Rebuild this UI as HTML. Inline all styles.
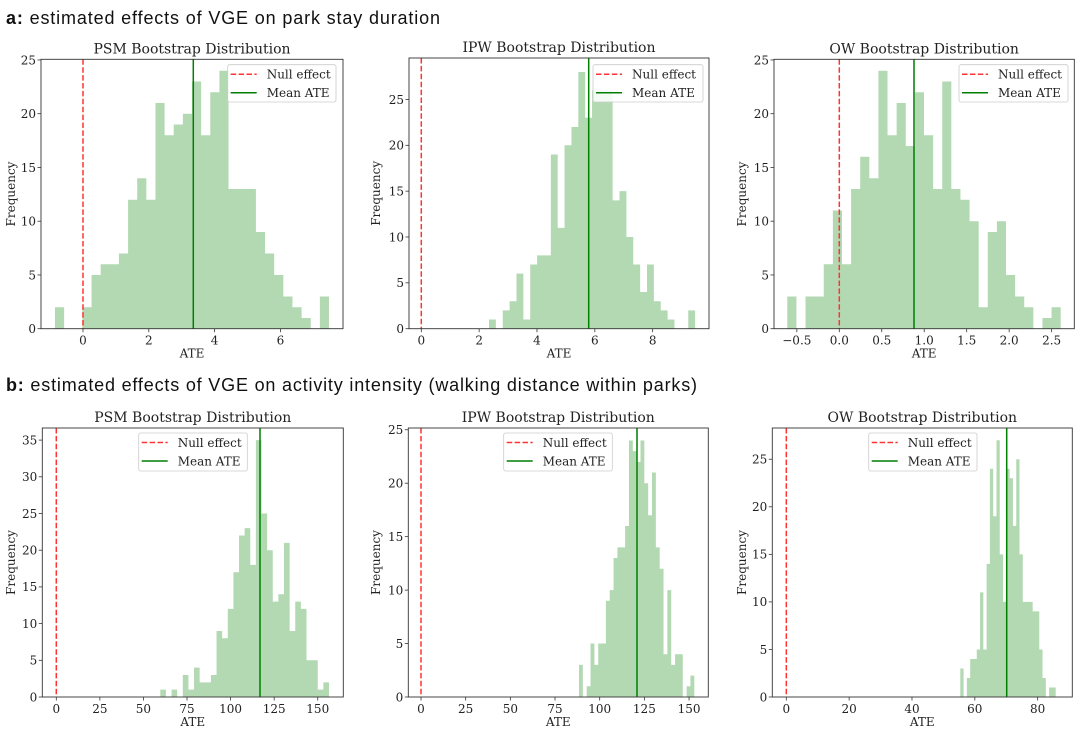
<!DOCTYPE html>
<html><head><meta charset="utf-8">
<style>
body{margin:0;background:#fff;width:1080px;height:735px;overflow:hidden}
svg{display:block}
.h{font-family:"Liberation Sans",sans-serif;font-size:18px;fill:#111}
.s{font-family:"DejaVu Serif","Liberation Serif",serif;fill:#222}
</style></head><body>
<svg id="c" width="1080" height="735" xmlns="http://www.w3.org/2000/svg">
<text class="h" x="6" y="24" textLength="434" lengthAdjust="spacing"><tspan font-weight="bold">a:</tspan> estimated effects of VGE on park stay duration</text>
<text class="h" x="6" y="391" textLength="691" lengthAdjust="spacing"><tspan font-weight="bold">b:</tspan> estimated effects of VGE on activity intensity (walking distance within parks)</text>
</svg>
<script>
const NS="http://www.w3.org/2000/svg";const svg=document.getElementById('c');
function el(t,a,txt){const e=document.createElementNS(NS,t);for(const k in a)e.setAttribute(k,a[k]);if(txt!==undefined)e.textContent=txt;svg.appendChild(e);return e;}
function panel(p){
 const xp=v=>p.x0+p.xs*v, yp=v=>p.B-p.ys*v;
 let d='';
 p.h.forEach((h,i)=>{if(h>0){const x=p.bs+i*p.bw;d+=`M${x},${p.B}V${yp(h)}H${x+p.bw}V${p.B}Z`;}});
 el('path',{d:d,fill:'rgb(179,217,179)'});
 el('line',{x1:xp(0),x2:xp(0),y1:p.T,y2:p.B,stroke:'#ff3333','stroke-width':1.5,'stroke-dasharray':'5.5,2.4'});
 el('line',{x1:p.mean,x2:p.mean,y1:p.T,y2:p.B,stroke:'#007f00','stroke-width':1.5});
 el('rect',{x:p.L,y:p.T,width:p.R-p.L,height:p.B-p.T,fill:'none',stroke:'#333','stroke-width':0.9});
 p.xt.forEach(([v,l])=>{const x=xp(v);el('line',{x1:x,x2:x,y1:p.B,y2:p.B+3.5,stroke:'#333','stroke-width':0.8});
  el('text',{class:'s',x:x,y:p.B+16,'text-anchor':'middle','font-size':12},l);});
 p.yt.forEach(v=>{const y=yp(v);el('line',{x1:p.L,x2:p.L-3.5,y1:y,y2:y,stroke:'#333','stroke-width':0.8});
  el('text',{class:'s',x:p.L-5,y:y+4.3,'text-anchor':'end','font-size':12},String(v));});
 el('text',{class:'s',x:(p.L+p.R)/2,y:p.T-6,'text-anchor':'middle','font-size':14},p.title);
 el('text',{class:'s',x:(p.L+p.R)/2,y:p.B+29,'text-anchor':'middle','font-size':12},'ATE');
 const fy=(p.T+p.B)/2;
 el('text',{class:'s',x:p.fx,y:fy,'text-anchor':'middle','font-size':12,transform:`rotate(-90 ${p.fx} ${fy})`,dy:4},'Frequency');
 const g=p.lg; el('rect',{x:g[0],y:g[1],width:g[2]-g[0],height:g[3]-g[1],fill:'#fff','fill-opacity':0.85,stroke:'#ccc','stroke-width':0.8,rx:2});
 const r1=g[1]+9.5,r2=g[1]+28;
 el('line',{x1:g[0]+3,x2:g[0]+29,y1:r1,y2:r1,stroke:'#ff3333','stroke-width':1.5,'stroke-dasharray':'5.5,2.4'});
 el('line',{x1:g[0]+3,x2:g[0]+29,y1:r2,y2:r2,stroke:'#007f00','stroke-width':1.5});
 el('text',{class:'s',x:g[0]+39,y:r1+4.3,'font-size':12},'Null effect');
 el('text',{class:'s',x:g[0]+39,y:r2+4.3,'font-size':12},'Mean ATE');
}
const yA=[0,5,10,15,20,25];
panel({title:'PSM Bootstrap Distribution',L:41,R:343,T:59.3,B:328.7,x0:83,xs:32.9,ys:10.75,bs:55,bw:9.133,
 h:[2,0,0,2,5,6,6,7,12,14,12,21,18,19,20,23,18,22,24,13,13,13,9,7,5,3,2,1,0,3],mean:193.3,
 xt:[[0,'0'],[2,'2'],[4,'4'],[6,'6']],yt:yA,fx:11,lg:[227.7,64.7,336,102]});
panel({title:'IPW Bootstrap Distribution',L:409,R:709,T:58,B:328.7,x0:421.3,xs:28.92,ys:9.17,bs:489,bw:6.87,
 h:[1,0,2,3,6,1,7,8,8,19,11,20,22,28,23,26,26,26,14,15,10,7,4,7,3,2,1,0,0,2],mean:588.7,
 xt:[[0,'0'],[2,'2'],[4,'4'],[6,'6'],[8,'8']],yt:yA,fx:376,lg:[593,64.7,703,102]});
panel({title:'OW Bootstrap Distribution',L:774,R:1074.3,T:59.3,B:328.7,x0:839.3,xs:84.93,ys:10.75,bs:787.3,bw:9.113,
 h:[3,0,3,3,6,11,6,13,16,14,24,18,21,17,22,18,13,23,13,12,10,2,9,10,5,3,2,0,1,2],mean:914,
 xt:[[-0.5,'\u22120.5'],[0,'0.0'],[0.5,'0.5'],[1,'1.0'],[1.5,'1.5'],[2,'2.0'],[2.5,'2.5']],yt:yA,fx:742,lg:[959,64.7,1068,102]});
panel({title:'PSM Bootstrap Distribution',L:42.3,R:343.3,T:428,B:697,x0:56.3,xs:1.743,ys:7.34,bs:160.3,bw:5.623,
 h:[1,0,1,0,3,1,4,2,2,3,9,8,12,17,22,23,18,35,25,20,13,14,21,9,13,12,5,5,1,2],mean:260,
 xt:[[0,'0'],[25,'25'],[50,'50'],[75,'75'],[100,'100'],[125,'125'],[150,'150']],yt:[0,5,10,15,20,25,30,35],fx:11,lg:[138.7,433,247.3,471]});
panel({title:'IPW Bootstrap Distribution',L:408.3,R:708.3,T:428,B:697,x0:421,xs:1.787,ys:10.69,bs:579,bw:3.843,
 h:[3,0,1,5,3,5,5,9,10,13,14,14,16,24,23,22,24,20,17,21,14,12,4,10,3,4,4,0,1,2],mean:637,
 xt:[[0,'0'],[25,'25'],[50,'50'],[75,'75'],[100,'100'],[125,'125'],[150,'150']],yt:yA,fx:376,lg:[503.7,433,612.3,471]});
panel({title:'OW Bootstrap Distribution',L:772.3,R:1072.3,T:428,B:697,x0:786.3,xs:3.142,ys:9.51,bs:960.3,bw:3.29,
 h:[3,0,2,4,4,5,11,5,14,24,19,27,15,10,24,23,18,25,15,10,10,10,9,9,5,2,0,1,1,0],mean:1006.7,
 xt:[[0,'0'],[20,'20'],[40,'40'],[60,'60'],[80,'80']],yt:yA,fx:742,lg:[868.7,433,977,471]});
</script>
</body></html>
